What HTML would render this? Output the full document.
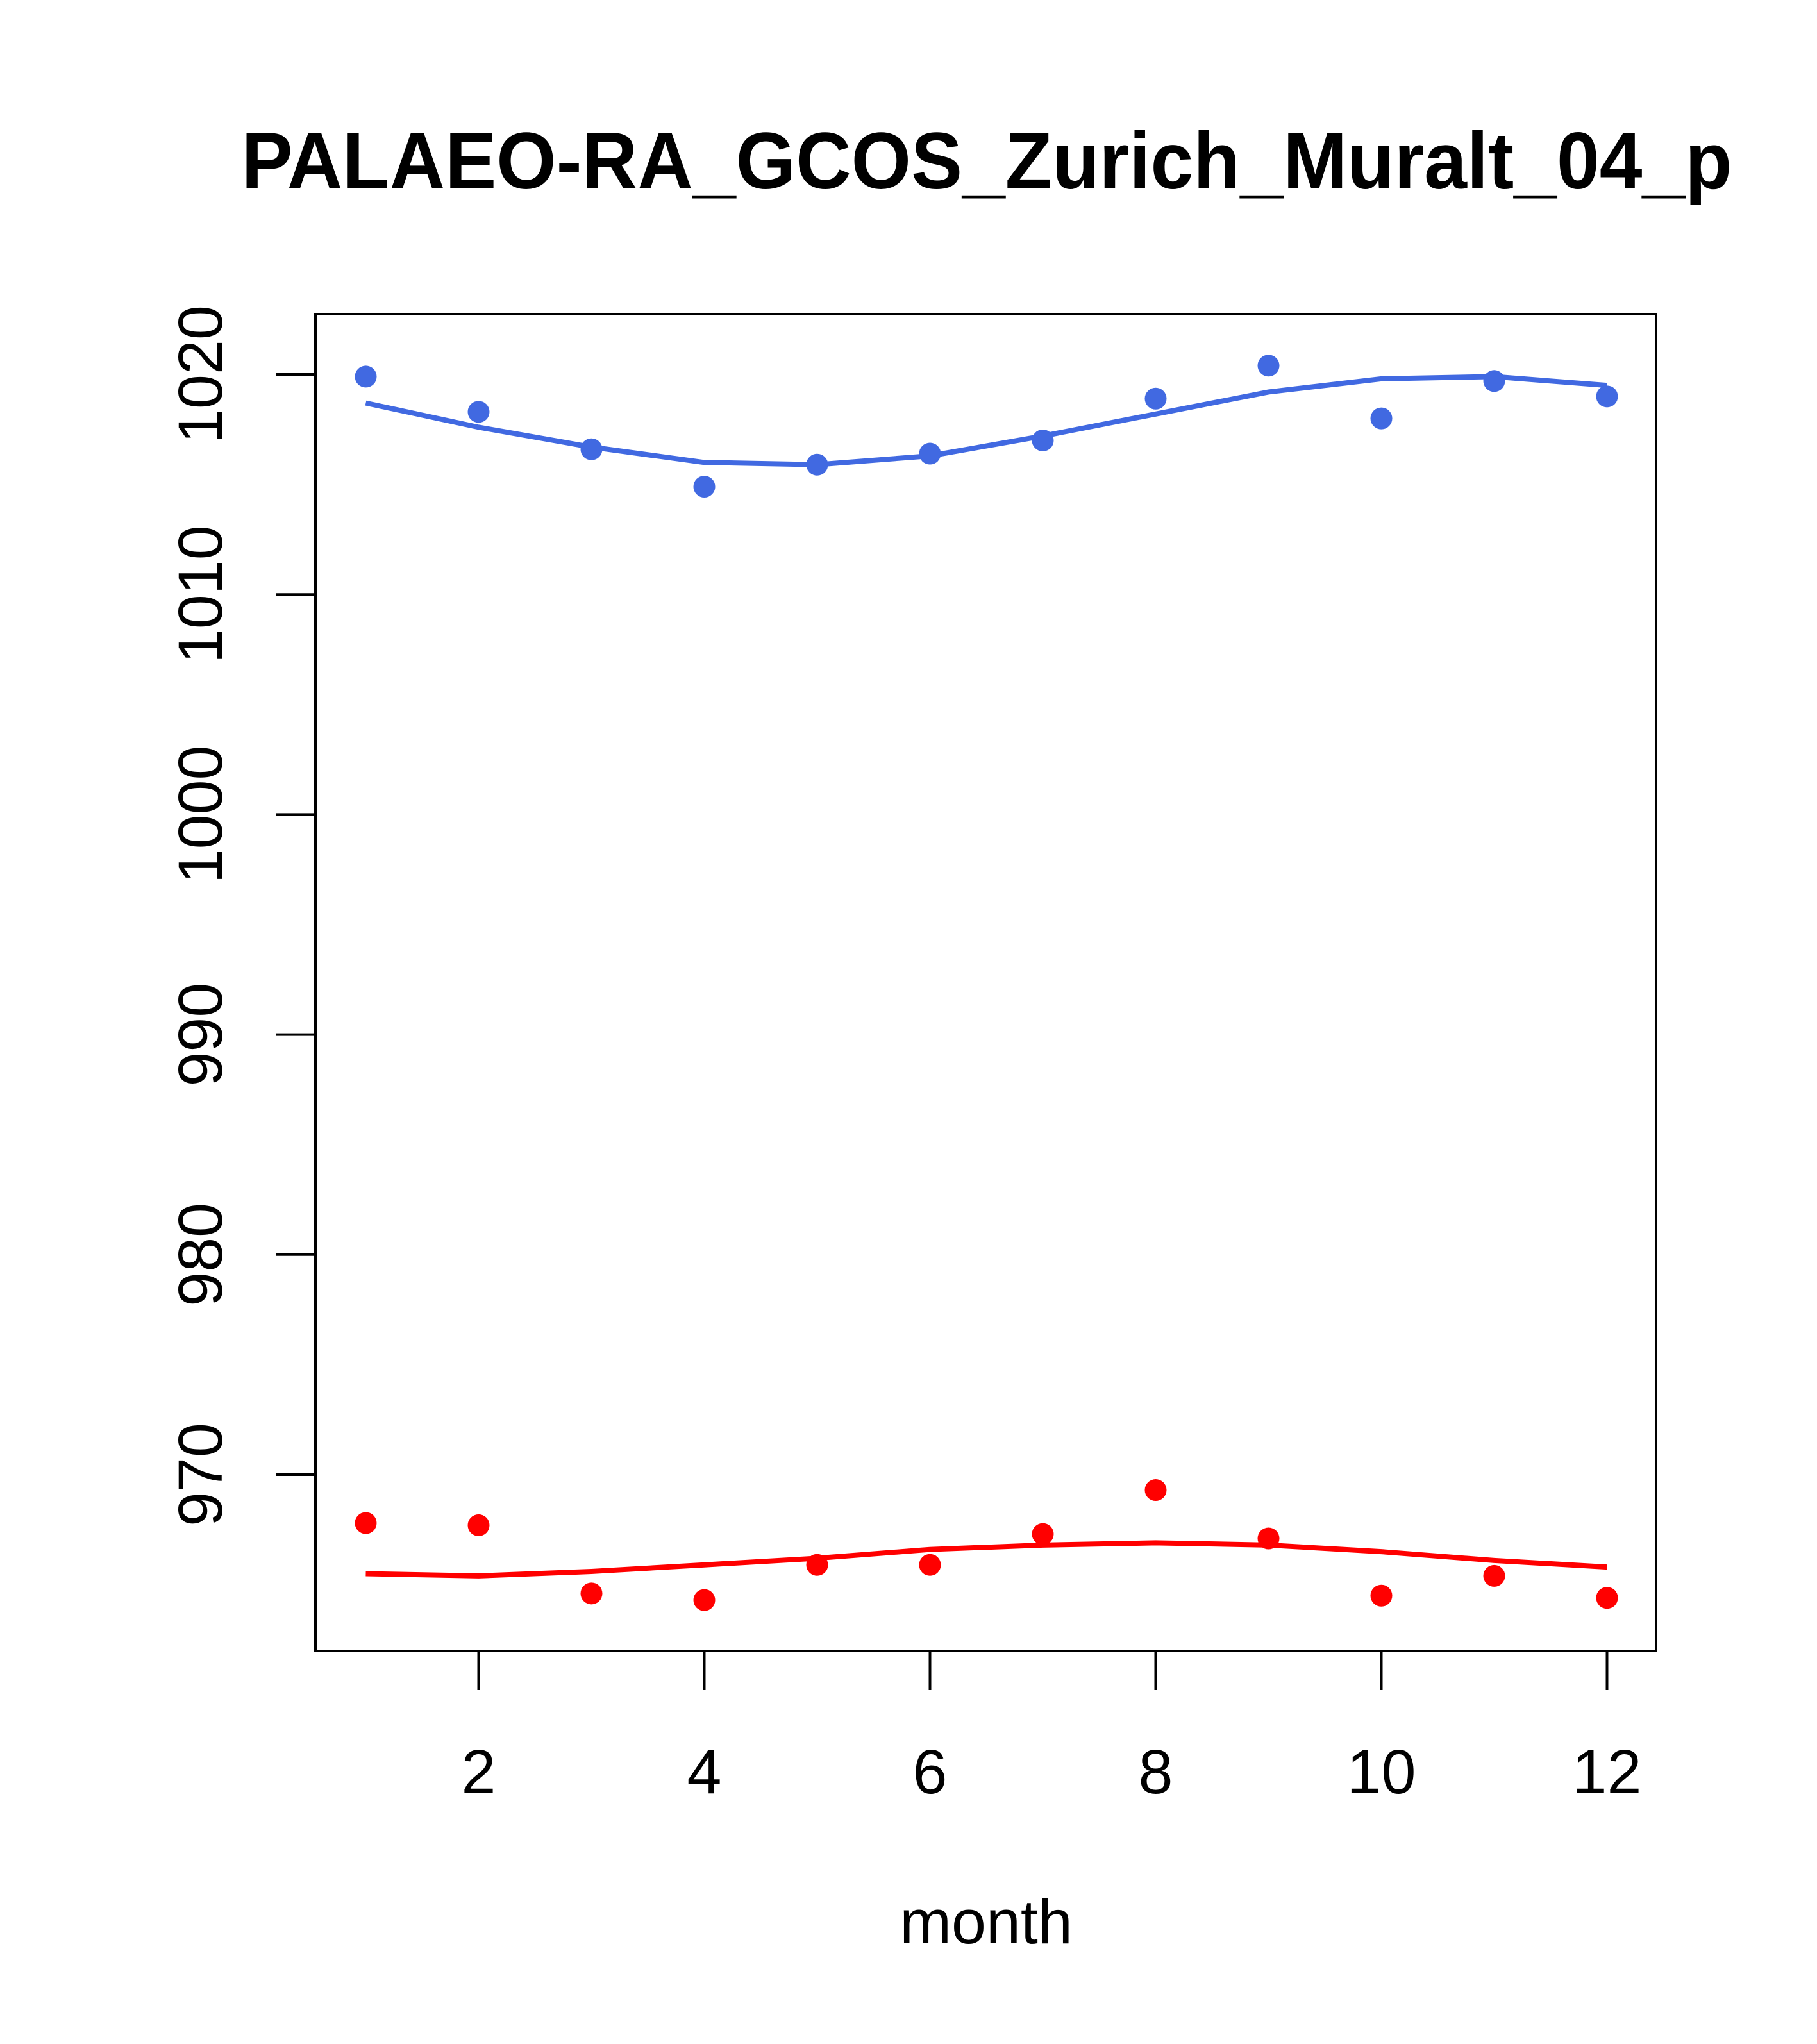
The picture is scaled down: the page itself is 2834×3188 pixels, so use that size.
<!DOCTYPE html>
<html><head><meta charset="utf-8"><style>
html,body{margin:0;padding:0;background:#fff;}
svg{display:block;font-family:"Liberation Sans",Arial,sans-serif;}
</style></head><body>
<svg id="chart" width="2834" height="3188" viewBox="0 0 2834 3188" xmlns="http://www.w3.org/2000/svg">
<rect width="2834" height="3188" fill="#fff"/>
<text x="1539" y="294" font-size="125" font-weight="bold" text-anchor="middle" textLength="2325" lengthAdjust="spacingAndGlyphs">PALAEO-RA_GCOS_Zurich_Muralt_04_p</text>
<rect x="492" y="490" width="2091" height="2085" fill="none" stroke="#000" stroke-width="4"/>
<text x="1538" y="3031" font-size="97" text-anchor="middle">month</text>
<g id="xaxis"></g>
<g id="yaxis"></g>
<g id="series"></g>
</svg>
<script>
const months = [1,2,3,4,5,6,7,8,9,10,11,12];
const bluePoints = [1019.9,1018.3,1016.6,1014.9,1015.9,1016.4,1017.0,1018.9,1020.4,1018.0,1019.7,1019.0];
const blueLine = [1018.7,1017.6,1016.7,1016.0,1015.9,1016.3,1017.2,1018.2,1019.2,1019.8,1019.9,1019.5];
const redPoints = [967.8,967.7,964.6,964.3,965.9,965.9,967.3,969.3,967.1,964.5,965.4,964.4];
const redLine = [965.5,965.4,965.6,965.9,966.2,966.6,966.8,966.9,966.8,966.5,966.1,965.8];
const xTicks = [2,4,6,8,10,12];
const yTicks = [970,980,990,1000,1010,1020];

const NS = "http://www.w3.org/2000/svg";
function xs(m){ return 746.5 + (m-2)*176.0; }
function ys(v){ return 2300 - (v-970)*34.32; }
function mk(tag, attrs, parent){
  const e = document.createElementNS(NS, tag);
  for (const k in attrs) e.setAttribute(k, attrs[k]);
  parent.appendChild(e);
  return e;
}
const xa = document.getElementById('xaxis');
const ya = document.getElementById('yaxis');
const se = document.getElementById('series');

xTicks.forEach(t => {
  const l = mk('line', {x1:xs(t), x2:xs(t), y1:2575, y2:2636, stroke:'#000', 'stroke-width':4}, xa);
  
  
  const tx = mk('text', {x:xs(t), y:2797, 'font-size':97, 'text-anchor':'middle'}, xa);
  tx.textContent = t;
  
  
});
yTicks.forEach(t => {
  const l = mk('line', {x1:431, x2:492, y1:ys(t), y2:ys(t), stroke:'#000', 'stroke-width':4}, ya);
  
  
  const tx = mk('text', {x:0, y:0, 'font-size':97, 'text-anchor':'middle', transform:'translate(346,' + ys(t) + ') rotate(-90)'}, ya);
  tx.textContent = t;
  
  
});

function drawLine(vals, color, name){
  const p = mk('polyline', {points: vals.map((v,i)=>xs(months[i])+','+ys(v)).join(' '), fill:'none', stroke:color, 'stroke-width':8}, se);
  
  
}
function drawPoints(vals, color, name){
  vals.forEach((v,i) => {
    const c = mk('circle', {cx:xs(months[i]), cy:ys(v), r:17, fill:color}, se);
    
    
  });
}
drawLine(blueLine, '#4169E1', 'blue-smooth-line');
drawPoints(bluePoints, '#4169E1', 'blue-point');
drawLine(redLine, '#FF0000', 'red-smooth-line');
drawPoints(redPoints, '#FF0000', 'red-point');
</script>
</body></html>
